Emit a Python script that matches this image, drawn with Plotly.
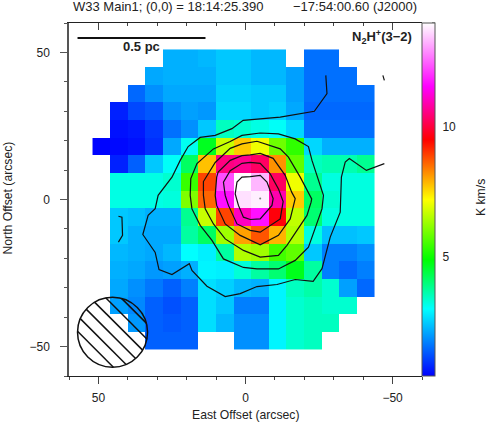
import numpy as np
import plotly.graph_objects as go

N = None
east_offset = [49, 43, 37, 31, 25, 19, 13, 7, 1, -5, -11, -17, -23, -29, -35, -41]
north_offset = [48, 42, 36, 30, 24, 18, 12, 6, 0, -6, -12, -18, -24, -30, -36, -42, -48]

integrated_intensity = [
    [N, N, N, N, 2.2, 2.2, 2.28, 2.44, 2.44, 2.28, 2.28, N, 1.55, 1.55, N, N],
    [N, N, N, 2.12, 2.2, 2.2, 2.2, 2.44, 2.44, 2.28, 2.28, 2.04, 1.55, 1.55, 1.55, N],
    [N, N, 1.47, 1.88, 2.12, 2.12, 2.12, 2.52, 2.52, 2.44, 2.44, 2.04, 1.55, 1.55, 1.55, 1.55],
    [N, 0.74, 1.15, 1.31, 1.88, 2.04, 1.96, 2.6, 2.6, 2.44, 2.52, 2.12, 1.47, 1.47, 1.47, 1.47],
    [N, 0.58, 0.66, 0.98, 1.55, 1.88, 2.44, 3.47, 3.35, 3.2, 3.05, 2.6, 1.55, 1.55, 1.55, 1.55],
    [0.45, 0.5, 0.58, 0.9, 2.12, 3.1, 4.66, 6.7, 7.7, 7.07, 5.9, 5.33, 2.6, 2.2, 2.2, 2.2],
    [N, 0.74, 1.39, 2.44, 3.05, 4.18, 7.77, 10.54, 10.67, 10.3, 8.2, 5.77, 3.47, 3.59, 3.59, 3.82],
    [N, 3.2, 3.2, 3.2, 3.35, 5.4, 8.9, 12.3, 14.0, 13.3, 10.28, 7.07, 3.82, 3.23, 3.23, 3.23],
    [N, 3.2, 3.2, 3.2, 3.25, 6.05, 8.6, 11.7, 13.7, 13.85, 10.9, 7.7, 4.18, 3.35, 3.23, 3.23],
    [N, 2.44, 2.36, 2.2, 2.2, 3.82, 6.7, 8.9, 11.05, 11.7, 9.6, 6.63, 4.06, 3.23, 3.23, 3.23],
    [N, 2.44, 2.2, 2.12, 2.12, 3.7, 4.18, 6.34, 8.06, 8.76, 7.9, 6.5, 3.23, 2.36, 2.36, 2.44],
    [N, 2.28, 2.2, 2.12, 2.28, 3.0, 2.85, 3.7, 6.5, 6.34, 5.48, 5.77, 2.44, 1.71, 1.71, 1.88],
    [N, 2.2, 2.12, 1.96, 2.04, 2.2, 2.9, 2.85, 3.3, 3.7, 4.06, 4.7, 3.7, 1.71, 1.47, 1.71],
    [N, 2.12, 1.88, 1.63, 1.39, 1.71, 2.68, 2.52, 2.28, 2.2, 2.9, 3.47, 3.65, 3.35, 2.04, 1.47],
    [N, 2.04, 1.8, 1.39, 1.23, 1.39, 2.68, 2.44, 1.71, 1.71, 2.9, 3.35, 3.47, 3.35, 3.35, N],
    [N, N, 1.96, 1.39, 1.31, 1.39, 2.68, 2.28, 1.88, 1.88, 2.9, 3.35, 3.47, 3.47, N, N],
    [N, N, N, 1.39, 1.39, 1.39, N, N, 1.88, 1.88, 2.9, 3.35, 3.47, N, N, N],
]

contour_1_x = [-27.3, -27.7, -23.4, -11.8, 0.8, 4.6, 10.3, 15.4, 19.5, 22.2, 25.0, 29.7, 30.7, 33.1, 34.9, 30.7, 29.4, 25.0, 19.1, 18.2, 13.1, 6.9, 1.8, -3.9, -10.7, -16.9, -23.0, -26.0, -28.8, -32.2, -32.6, -33.9, -35.3, -41.1, -47.2]
contour_1_y = [42.2, 36.0, 30.0, 28.0, 26.9, 24.1, 21.8, 21.1, 18.0, 13.3, 7.6, 1.4, -3.1, -5.4, -11.9, -18.0, -23.8, -25.5, -21.8, -24.1, -29.5, -33.0, -32.0, -29.6, -28.9, -27.2, -27.8, -23.5, -12.8, -4.3, 7.6, 12.7, 13.9, 9.9, 12.2]
contour_1b_x = [43.2, 42.0, 41.8, 43.2]
contour_1b_y = [-5.7, -6.0, -12.2, -14.5]
contour_1c_x = [-46.7, -47.2]
contour_1c_y = [42.2, 40.5]
contour_2_x = [-5.0, -11.2, -16.9, -21.4, -22.6, -25.4, -26.5, -26.0, -21.4, -16.9, -11.2, -3.9, 0.7, 7.5, 11.4, 15.4, 18.2, 18.8, 18.6, 16.5, 10.9, 5.2, 1.2, -5.0]
contour_2_y = [22.6, 22.3, 20.6, 18.0, 13.3, 5.3, 1.4, -3.2, -16.2, -20.7, -23.6, -23.6, -23.1, -20.2, -13.9, -8.8, -3.2, 1.4, 7.1, 12.2, 17.2, 19.7, 21.8, 22.6]
contour_3_x = [-3.9, -11.8, -14.6, -18.6, -22.5, -22.3, -20.9, -14.1, -11.2, -5.0, 0.7, 6.9, 10.9, 13.7, 14.3, 14.3, 10.3, 5.2, 1.2, -3.9]
contour_3_y = [19.8, 17.2, 14.4, 7.6, 0.2, -0.9, -5.4, -15.6, -19.0, -19.6, -17.3, -13.4, -8.3, -3.2, 1.4, 6.1, 12.6, 17.4, 18.9, 19.8]
contour_4_x = [-1.6, -5.0, -9.4, -13.5, -15.7, -16.9, -15.2, -11.2, -5.0, 1.8, 6.9, 9.8, 10.3, 9.8, 9.3, 5.2, 1.2, -1.6]
contour_4_y = [15.2, 15.7, 14.0, 8.2, 2.5, 0.3, -6.6, -12.2, -15.4, -12.2, -8.3, -2.0, 1.4, 7.6, 9.3, 13.3, 14.9, 15.2]
contour_5_x = [-1.6, -5.0, -8.4, -11.2, -12.8, -11.8, -5.0, -1.6, 2.9, 5.8, 6.9, 7.5, 5.2, 1.2, -1.6]
contour_5_y = [12.6, 12.3, 8.7, 3.6, -0.7, -6.6, -11.1, -10.5, -8.3, -2.0, 1.4, 5.9, 9.8, 12.3, 12.6]
contour_6_x = [-1.6, -5.0, -7.3, -9.0, -9.4, -9.0, -5.0, -1.6, 0.7, 2.4, 3.5, 2.9, 1.2, -1.6]
contour_6_y = [7.8, 8.2, 5.9, 1.4, 0.3, -2.0, -6.6, -6.8, -6.0, -2.0, 1.9, 5.9, 7.6, 7.8]
contours = [
    (contour_1_x, contour_1_y), (contour_1b_x, contour_1b_y), (contour_1c_x, contour_1c_y),
    (contour_2_x, contour_2_y), (contour_3_x, contour_3_y), (contour_4_x, contour_4_y),
    (contour_5_x, contour_5_y), (contour_6_x, contour_6_y),
]

peak_x = [-5.0]
peak_y = [0.3]
scale_bar_x = [57.1, 13.6]
scale_bar_y = [54.9, 54.9]
beam_x, beam_y, beam_r = 45.2, -45.1, 11.9
beam_hatch_offsets = [-10.3, -6.6, -2.9, 0.8, 4.5, 8.2]

axis_major = [50, 0, -50]
axis_major_text = ["50", "0", "\u221250"]
cbar_label_vals = [5, 10]
cbar_tick_vals = list(range(1, 15))
ZMIN, ZMAX = 0.42, 14

colorscale = [[0, "#0000ff"], [0.19, "#00ffff"], [0.33, "#00ff00"], [0.5, "#ffff00"],
              [0.67, "#ff0000"], [0.82, "#ff00ff"], [1, "#ffffff"]]

FONT = "Liberation Sans"
L, R, T, B = 69.3, 422.3, 22.7, 375.7
W, H = 491, 425


def px(x):
    return (x - L) / (R - L)


def py(y):
    return (B - y) / (B - T)


fig = go.Figure()
fig.add_trace(go.Heatmap(
    x=east_offset, y=north_offset, z=integrated_intensity, zmin=ZMIN, zmax=ZMAX,
    colorscale=colorscale, hoverongaps=False,
    colorbar=dict(
        x=1.0, xanchor="left", xpad=0, y=0.5, yanchor="middle", ypad=0,
        thickness=13, thicknessmode="pixels", len=353, lenmode="pixels",
        outlinewidth=1, outlinecolor="#555555",
        tickmode="array", tickvals=cbar_label_vals, ticktext=["5", "10"],
        ticks="outside", ticklen=5, tickwidth=1, tickcolor="rgba(0,0,0,0)",
        tickfont=dict(family=FONT, size=12, color="#222222"),
    ),
))
for cx, cy in contours:
    fig.add_trace(go.Scatter(x=cx, y=cy, mode="lines", showlegend=False, hoverinfo="skip",
                             line=dict(color="#111111", width=1.2)))
fig.add_trace(go.Scatter(x=peak_x, y=peak_y, mode="markers", showlegend=False,
                         marker=dict(size=2, color="#777777")))
fig.add_trace(go.Scatter(x=scale_bar_x, y=scale_bar_y, mode="lines", showlegend=False,
                         line=dict(color="#111111", width=2)))

# beam hatching: chords of the beam circle at 45 degrees
hx, hy = [], []
for o in beam_hatch_offsets:
    h = np.sqrt(beam_r ** 2 - o ** 2)
    cx0 = beam_x + o / np.sqrt(2)
    cy0 = beam_y - o / np.sqrt(2)
    d = h / np.sqrt(2)
    hx += [cx0 - d, cx0 + d, None]
    hy += [cy0 - d, cy0 + d, None]
fig.add_trace(go.Scatter(x=hx, y=hy, mode="lines", showlegend=False, hoverinfo="skip",
                         line=dict(color="#111111", width=1.5)))
fig.add_trace(go.Scatter(x=[0], y=[0], xaxis="x2", mode="markers", showlegend=False,
                         hoverinfo="skip", marker=dict(size=1, opacity=0)))

fig.add_shape(type="circle", xref="x", yref="y", x0=beam_x - beam_r, x1=beam_x + beam_r,
              y0=beam_y - beam_r, y1=beam_y + beam_r, line=dict(color="#111111", width=1.5))
for v in cbar_tick_vals:
    fy = (v - ZMIN) / (ZMAX - ZMIN)
    fig.add_shape(type="line", xref="paper", yref="paper", x0=px(432.3), x1=px(435.3), y0=fy, y1=fy,
                  line=dict(color="#333333", width=1))

axis_common = dict(tickmode="array", tickvals=axis_major, showgrid=False, zeroline=False,
                   showline=True, linewidth=1, ticklen=7, tickwidth=1)
fig.update_layout(
    width=W, height=H, margin=dict(l=L, r=W - R, t=T, b=H - B, autoexpand=False),
    paper_bgcolor="white", plot_bgcolor="white",
    font=dict(family=FONT, size=12, color="#222222"),
    xaxis=dict(axis_common, range=[60, -60], ticktext=axis_major_text, ticks="outside",
               linecolor="#222222", tickcolor="#444444",
               minor=dict(dtick=10, ticks="outside", ticklen=3, tickcolor="#444444", showgrid=False),
               ticklabelstandoff=4),
    xaxis2=dict(axis_common, range=[60, -60], overlaying="x", side="top",
                ticks="inside", showticklabels=False, linecolor="#222222", tickcolor="#444444",
                minor=dict(dtick=10, ticks="inside", ticklen=3, tickcolor="#444444", showgrid=False)),
    yaxis=dict(axis_common, range=[-60, 60], ticktext=axis_major_text, ticks="outside",
               linecolor="#555555", linewidth=1.5, tickcolor="#555555",
               minor=dict(dtick=10, ticks="outside", ticklen=3, tickcolor="#555555", showgrid=False),
               ticklabelstandoff=8),
    annotations=[
        dict(text="W33 Main1; (0,0) = 18:14:25.390", xref="paper", yref="paper", x=px(71.5), y=py(6.5),
             xanchor="left", yanchor="middle", showarrow=False, font=dict(size=13)),
        dict(text="\u221217:54:00.60 (J2000)", xref="paper", yref="paper", x=px(419.5), y=py(6.5),
             xanchor="right", yanchor="middle", showarrow=False, font=dict(size=13)),
        dict(text="<b>0.5 pc</b>", xref="paper", yref="paper", x=px(142), y=py(46),
             xanchor="center", yanchor="middle", showarrow=False, font=dict(size=13)),
        dict(text="<b>N<sub>2</sub>H<sup>+</sup>(3\u22122)</b>", xref="paper", yref="paper", x=px(414), y=py(37),
             xanchor="right", yanchor="middle", showarrow=False, font=dict(size=13)),
        dict(text="East Offset (arcsec)", xref="paper", yref="paper", x=px(245.5), y=py(415),
             xanchor="center", yanchor="middle", showarrow=False, font=dict(size=12.2)),
        dict(text="North Offset (arcsec)", xref="paper", yref="paper", x=px(8.5), y=py(198),
             xanchor="center", yanchor="middle", showarrow=False, textangle=-90, font=dict(size=12.2)),
        dict(text="K km/s", xref="paper", yref="paper", x=px(482), y=py(197),
             xanchor="center", yanchor="middle", showarrow=False, textangle=-90, font=dict(size=12.2)),
    ],
)
fig.write_html("out.html", config={"displayModeBar": False},
               post_script="document.body.style.margin='0';document.documentElement.style.overflow='hidden';")
